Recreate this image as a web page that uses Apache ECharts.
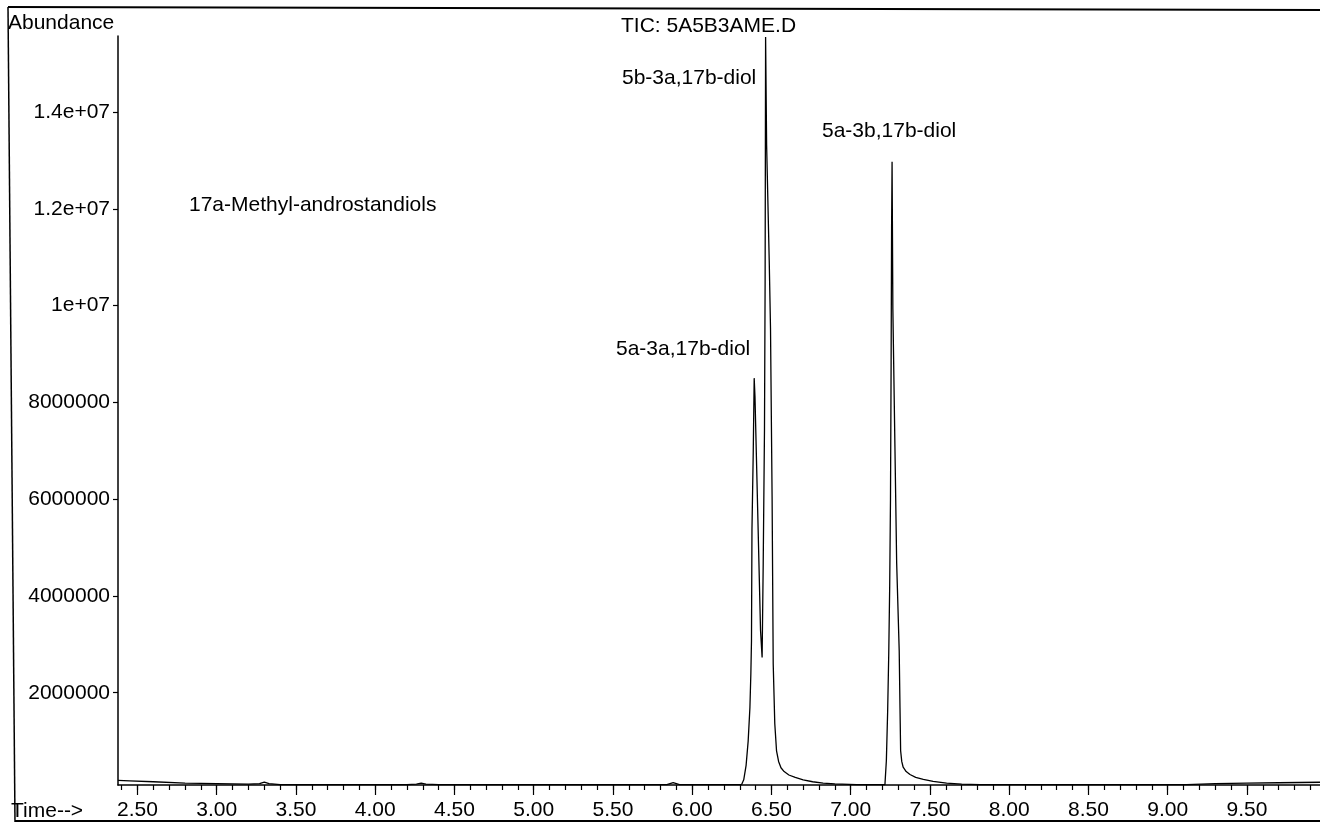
<!DOCTYPE html>
<html>
<head>
<meta charset="utf-8">
<script src="https://cdn.jsdelivr.net/npm/echarts@6/dist/echarts.min.js"></script>
<style>
html,body{margin:0;padding:0;background:#fff;}
#chart{width:1320px;height:823px;}
</style>
</head>
<body>
<div id="chart"></div>
<script>
// Retention time (min)
const times = [
  2.377, 2.45, 2.60, 2.80, 3.00, 3.20, 3.27, 3.30, 3.33, 3.40, 3.60, 3.80, 4.00, 4.20,
  4.26, 4.29, 4.32, 4.40, 4.80, 5.20, 5.60, 5.84, 5.88, 5.92, 6.10, 6.25,
  6.311, 6.325, 6.340, 6.353, 6.364, 6.370, 6.374, 6.377, 6.385, 6.391, 6.396, 6.416, 6.431, 6.441,
  6.448, 6.456, 6.460, 6.463, 6.4695, 6.486, 6.494, 6.504, 6.511, 6.521, 6.532, 6.545, 6.560, 6.580,
  6.610, 6.650, 6.700, 6.760, 6.826, 6.900, 7.037, 7.200,
  7.216, 7.225, 7.233, 7.240, 7.246, 7.251, 7.255, 7.258, 7.261, 7.266, 7.279, 7.290, 7.306,
  7.311, 7.315, 7.322, 7.331, 7.350, 7.374, 7.410, 7.458, 7.520, 7.605, 7.700, 7.816,
  8.02, 8.50, 9.00, 9.12, 9.30, 9.50, 9.70, 9.961
];
// TIC abundance
const abundance = [
  190000, 180000, 160000, 130000, 120000, 110000, 120000, 150000, 120000, 100000, 100000, 100000, 100000, 100000,
  110000, 130000, 110000, 100000, 100000, 100000, 100000, 100000, 140000, 100000, 100000, 100000,
  100000, 200000, 500000, 1000000, 1690000, 2390000, 3080000, 5360000, 6960000, 8500000, 8120000, 5360000, 3290000, 2730000,
  4680000, 7440000, 10500000, 15550000, 13310000, 10910000, 9520000, 6050000, 2600000, 1360000, 800000, 580000, 450000, 370000,
  300000, 250000, 200000, 160000, 130000, 115000, 100000, 100000,
  100000, 600000, 1600000, 2800000, 4200000, 6000000, 8800000, 11600000, 12970000, 9930000, 7090000, 4680000, 2870000,
  1690000, 800000, 580000, 460000, 370000, 310000, 250000, 210000, 170000, 130000, 110000, 100000,
  100000, 100000, 100000, 100000, 120000, 130000, 140000, 150000
];
const yTickValues = [2000000, 4000000, 6000000, 8000000, 10000000, 12000000, 14000000];
const xLabelValues = [2.5, 3.0, 3.5, 4.0, 4.5, 5.0, 5.5, 6.0, 6.5, 7.0, 7.5, 8.0, 8.5, 9.0, 9.5];
const xMinorValues = [];
for (let i = 24; i <= 99; i++) xMinorValues.push(i / 10);

const peakLabels = [
  {text: 'TIC: 5A5B3AME.D', x: 621, y: 26},
  {text: '5b-3a,17b-diol', x: 622, y: 78},
  {text: '5a-3b,17b-diol', x: 822, y: 131},
  {text: '5a-3a,17b-diol', x: 616, y: 349},
  {text: '17a-Methyl-androstandiols', x: 189, y: 205}
];

const FONT = '"Liberation Sans", Arial, sans-serif';
const FS = 21;
const chart = echarts.init(document.getElementById('chart'), null, {renderer: 'canvas'});

const X_MIN = 2.377, X_MAX = 9.961;

const graphics = [
  {type: 'line', shape: {x1: 8, y1: 7, x2: 1320, y2: 10}, style: {stroke: '#000', lineWidth: 2}},
  {type: 'line', shape: {x1: 8, y1: 7, x2: 15, y2: 822}, style: {stroke: '#000', lineWidth: 1.5}},
  {type: 'line', shape: {x1: 15, y1: 821, x2: 1320, y2: 821}, style: {stroke: '#000', lineWidth: 2}},
  {type: 'text', x: 8, y: 23, style: {text: 'Abundance', font: FS + 'px ' + FONT, fill: '#000', textVerticalAlign: 'middle'}},
  {type: 'text', x: 11, y: 811, style: {text: 'Time-->', font: FS + 'px ' + FONT, fill: '#000', textVerticalAlign: 'middle'}}
];
peakLabels.forEach(p => graphics.push({
  type: 'text', x: p.x, y: p.y,
  style: {text: p.text, font: FS + 'px ' + FONT, fill: '#000', textVerticalAlign: 'middle'}
}));

chart.setOption({
  animation: false,
  backgroundColor: '#fff',
  grid: {left: 118, right: 0, top: 36, bottom: 38, containLabel: false},
  xAxis: [{
    type: 'value', min: X_MIN, max: X_MAX, position: 'bottom',
    axisLine: {show: true, onZero: false, lineStyle: {color: '#000', width: 1.5}},
    axisTick: {show: true, customValues: xMinorValues, length: 5, lineStyle: {color: '#000', width: 1.2}},
    axisLabel: {show: true, customValues: xLabelValues, margin: 15, color: '#000', fontSize: FS, fontFamily: FONT,
      formatter: v => v.toFixed(2)},
    splitLine: {show: false}
  }, {
    type: 'value', min: X_MIN, max: X_MAX, position: 'bottom',
    axisLine: {show: false, onZero: false},
    axisTick: {show: true, customValues: xLabelValues, length: 10, lineStyle: {color: '#000', width: 1.2}},
    axisLabel: {show: false},
    splitLine: {show: false}
  }],
  yAxis: {
    type: 'value', min: 93000, max: 15570000,
    axisLine: {show: true, onZero: false, lineStyle: {color: '#000', width: 1.5}},
    axisTick: {show: true, customValues: yTickValues, length: 5, lineStyle: {color: '#000', width: 1.2}},
    axisLabel: {show: true, customValues: yTickValues, margin: 8, color: '#000', fontSize: FS, fontFamily: FONT,
      formatter: v => v >= 10000000 ? (v / 10000000) + 'e+07' : String(v)},
    splitLine: {show: false}
  },
  series: [{
    type: 'line',
    data: times.map((t, i) => [t, abundance[i]]),
    showSymbol: false,
    symbol: 'none',
    clip: true,
    lineStyle: {color: '#000', width: 1.3},
    xAxisIndex: 0
  }],
  graphic: graphics
});
</script>
</body>
</html>
